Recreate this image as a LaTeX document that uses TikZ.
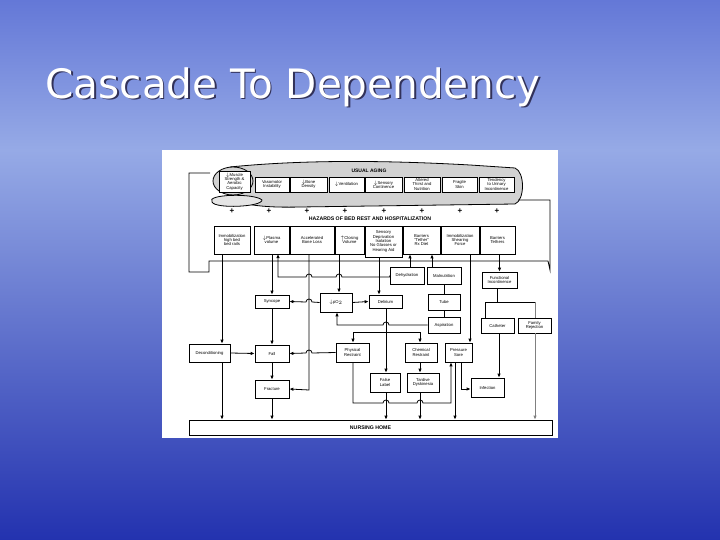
\documentclass[tikz,border=0pt]{standalone}
\usepackage{fontspec}
\setmainfont{Liberation Sans}
\newfontfamily\ttl{DejaVu Sans}
\usetikzlibrary{arrows.meta}
\tikzset{
 bx/.style={draw,line width=0.7pt,fill=white,inner sep=0.3pt,align=center,font=\fontsize{4.2}{4.4}\selectfont},
 ln/.style={line width=0.8pt},
 ar/.style={ln,-{Latex[length=4pt,width=3.5pt]}},
}
\newcommand\bxx[6]{\node[bx,minimum width={(#4)-(#2)},minimum height={(#5)-(#3)}] (#1) at ({((#2)+(#4))/2},{((#3)+(#5))/2}) {#6};}
\newcommand\hx[2]{-- ({#1-3},#2) arc[start angle=180,end angle=360,radius=3]}
\newcommand\hxl[2]{-- ({#1+3},#2) arc[start angle=0,end angle=-180,radius=3]}
\begin{document}
\begin{tikzpicture}[x=1pt,y=-1pt]
\useasboundingbox (0,0) rectangle (720,540);
\shade[top color={rgb,255:red,100;green,120;blue,215},bottom color={rgb,255:red,150;green,170;blue,230}] (0,0) rectangle (720,150);
\shade[top color={rgb,255:red,150;green,170;blue,230},middle color={rgb,255:red,70;green,95;blue,205},bottom color={rgb,255:red,35;green,50;blue,175}] (0,150) rectangle (720,540);
\node[anchor=base west,font=\ttl\fontsize{40.5}{42}\selectfont,text={rgb,255:red,50;green,50;blue,90}] at (43.5,100) {Cascade To Dependency};
\node[anchor=base west,font=\ttl\fontsize{40.5}{42}\selectfont,text=white] (title) at (42,98.5) {Cascade To Dependency};
\fill[white] (162,150) rectangle (558,438);
% body
\draw[ln,fill=gray!35] (230,167) .. controls (300,160) and (380,160) .. (470,165) -- (515,168) .. controls (525,172) and (525,200) .. (515,204) -- (300,207) .. controls (260,208) and (240,204) .. (230,198) -- cycle;
\draw[ln,fill=gray!35] (233,181) ellipse[x radius=20,y radius=14];
\draw[ln,fill=gray!20] (212,202) .. controls (205,194) and (255,193) .. (262,200) .. controls (262,207) and (215,209) .. (212,202) -- cycle;
\node[font=\bfseries\fontsize{5}{5}\selectfont] (ua) at (369,171) {USUAL AGING};
\bxx{a1}{219}{171}{250}{192}{$\downarrow$Muscle\\Strength \&\\Aerobic\\Capacity}
\bxx{a2}{255}{177}{289}{192}{Vasomotor\\Instability}
\bxx{a3}{290}{177}{327}{192}{$\downarrow$Bone\\Density}
\bxx{a4}{329}{177}{364}{192}{$\downarrow$Ventilation}
\bxx{a5}{365}{177}{402}{192}{$\downarrow$Sensory\\Continence}
\bxx{a6}{404}{177}{440}{192}{Altered\\Thirst and\\Nutrition}
\bxx{a7}{442}{177}{477}{192}{Fragile\\Skin}
\bxx{a8}{479}{177}{514}{192}{Tendency\\to Urinary\\Incontinence}
% frame
\draw[ln] (210,173) -- (189,173) -- (189,272) -- (209,272) -- (209,261) -- (548,261) -- (550,270) -- (550,200) -- (518,200);
\foreach \x/\n in {232/1,269/2,307/3,345/4,384/5,422/6,460/7,497/8}{\node[font=\bfseries\fontsize{8}{8}\selectfont] (p\n) at (\x,211) {+};}
\node[font=\bfseries\fontsize{5.2}{5}\selectfont] (hz) at (370,219) {HAZARDS OF BED REST AND HOSPITALIZATION};
\bxx{h1}{214}{226}{250}{254}{Immobilization\\high bed\\bed rails}
\bxx{h2}{254}{226}{289}{254}{$\downarrow$Plasma\\volume}
\bxx{h3}{290}{226}{334}{254}{Accelerated\\Bone Loss}
\bxx{h4}{335}{226}{364}{254}{$\uparrow$Closing\\Volume}
\bxx{h5}{365}{226}{402}{257}{Sensory\\Deprivation\\Isolation\\No Glasses or\\Hearing Aid}
\bxx{h6}{403}{226}{440}{254}{Barriers\\``Tether''\\Rx Diet}
\bxx{h7}{441}{226}{479}{254}{Immobilization\\Shearing\\Force}
\bxx{h8}{480}{226}{515}{254}{Barriers\\Tethers}
% lower nodes
\bxx{deh}{390}{267}{424}{284}{Dehydration}
\bxx{mal}{427}{267}{461}{284}{Malnutrition}
\bxx{fi}{482}{272}{517}{288}{Functional\\Incontinence}
\bxx{syn}{255}{295}{289}{308}{Syncope}
\bxx{po}{320}{293}{352}{312}{$\downarrow$pO$_2$}
\bxx{del}{369}{295}{402}{308}{Delirium}
\bxx{tub}{428}{294}{460}{310}{Tube}
\bxx{asp}{428}{317}{460}{333}{Aspiration}
\bxx{cat}{481}{318}{514}{333}{Catheter}
\bxx{fam}{518}{318}{551}{333}{Family\\Rejection}
\bxx{dec}{189}{344}{230}{362}{Deconditioning}
\bxx{fal}{255}{345}{289}{362}{Fall}
\bxx{phr}{336}{343}{369}{362}{Physical\\Restraint}
\bxx{chr}{405}{343}{437}{362}{Chemical\\Restraint}
\bxx{ps}{445}{343}{472}{362}{Pressure\\Sore}
\bxx{fl}{370}{373}{400}{392}{False\\Label}
\bxx{td}{407}{373}{439}{392}{Tardive\\Dyskinesia}
\bxx{fr}{255}{380}{289}{398}{Fracture}
\bxx{inf}{471}{378}{504}{397}{Infection}
\node[bx,minimum width=363,minimum height=15,font=\bfseries\fontsize{5.2}{5}\selectfont] (nh) at (370.5,427.5) {NURSING HOME};
% connectors
\draw[ar] (222,254) -- (dec.north -| 222,0);
\draw[ar] (h2.south -| syn) -- (syn.north);
\draw[ar] (deh.west) -- (390,277) \hxl{339}{277} \hxl{309}{277} -- (278,277) -- (278,254);
\draw[ar] (309,254) -- (309,390) -- (fr.east);
\draw[ar] (h4.south -| 339,0) -- (po.north -| 339,0);
\draw[ar] (h5.south -| 379,0) -- (del.north -| 379,0);
\draw[ar] (deh.north -| 410,0) -- (h6.south -| 410,0);
\draw[ar] (mal.north -| 432,0) -- (h6.south -| 432,0);
\draw[ar] (h7.south -| 470,0) -- (ps.north -| 470,0);
\draw[ar] (h8.south -| fi) -- (fi.north);
\draw[ar] (po.west) \hxl{309}{302} -- (syn.east);
\draw[ar] (po.east) -- (del.west);
\draw[ar] (syn.south) -- (fal.north);
\draw[ln] (mal.south) -- (tub.north);
\draw[ln] (tub.south) -- (asp.north);
\draw[ar] (asp.west) \hxl{386}{325} -- (337,325) -- (po.south -| 337,0);
\draw[ar] (386,308) -- (fl.north -| 386,0);
\draw[ar] (386,332) -- (353,332) -- (phr.north -| 353,0);
\draw[ar] (386,332) -- (420,332) -- (chr.north -| 420,0);
\draw[ar] (phr.west) \hxl{309}{353} -- (fal.east);
\draw[ar] (dec.east) -- (fal.west);
\draw[ar] (fal.south) -- (fr.north);
\draw[ar] (phr.south -| 353,0) -- (353,403) \hx{386}{403} \hx{420}{403} -- (451,403) -- (ps.south -| 451,0);
\draw[ar] (chr.south -| 420,0) -- (td.north -| 420,0);
\draw[ar] (ps.south -| 455,0) -- (nh.north -| 455,0);
\draw[ar] (ps.south -| 461,0) -- (461,389) -- (inf.west |- 0,389);
\draw[ln] (fi.south -| 497,0) -- (497,302);
\draw[ln] (485,302) -- (535,302);
\draw[ln] (485,302) -- (cat.north -| 485,0);
\draw[ln,gray] (535,302) -- (fam.north -| 535,0);
\draw[ar] (cat.south -| 499,0) -- (inf.north -| 499,0);
\draw[ar,gray] (fam.south -| 535,0) -- (nh.north -| 535,0);
\draw[ar] (dec.south -| 222,0) -- (nh.north -| 222,0);
\draw[ar] (fr.south) -- (nh.north -| fr);
\draw[ar] (fl.south -| 386,0) -- (nh.north -| 386,0);
\draw[ar] (td.south -| 420,0) -- (nh.north -| 420,0);
\end{tikzpicture}
\end{document}
